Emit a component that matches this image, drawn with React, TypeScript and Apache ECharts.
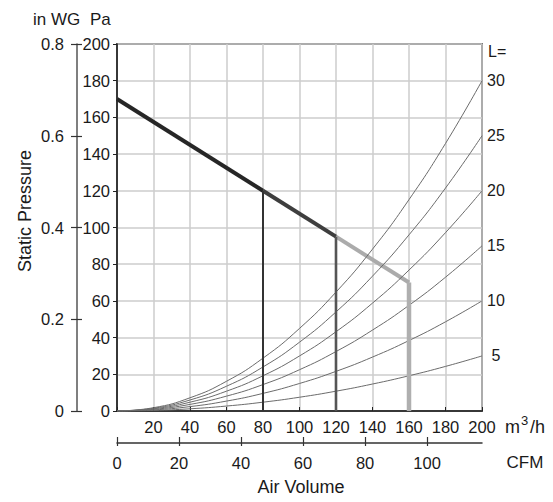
import React, { useEffect, useRef } from "react";
import * as echarts from "echarts";

// Air volume sample points (m3/h)
const airVolume = [0, 20, 40, 60, 80, 100, 120, 140, 160, 180, 200];
// System resistance curves for duct lengths L (Pa at each air volume)
const ductLengths = [5, 10, 15, 20, 25, 30];
const curveL5 = [0, 0.3, 1.2, 2.7, 4.8, 7.5, 10.8, 14.7, 19.2, 24.3, 30];
const curveL10 = [0, 0.6, 2.4, 5.4, 9.6, 15, 21.6, 29.4, 38.4, 48.6, 60];
const curveL15 = [0, 0.9, 3.6, 8.1, 14.4, 22.5, 32.4, 44.1, 57.6, 72.9, 90];
const curveL20 = [0, 1.2, 4.8, 10.8, 19.2, 30, 43.2, 58.8, 76.8, 97.2, 120];
const curveL25 = [0, 1.5, 6, 13.5, 24, 37.5, 54, 73.5, 96, 121.5, 150];
const curveL30 = [0, 1.8, 7.2, 16.2, 28.8, 45, 64.8, 88.2, 115.2, 145.8, 180];
const curves = [curveL5, curveL10, curveL15, curveL20, curveL25, curveL30];

// Fan performance line: speed steps (m3/h, Pa)
const fanVolume = [0, 80, 120, 160];
const fanPressure = [170, 120, 95, 70];

// Axis ranges
const paMax = 200;
const paStep = 20;
const inwgMax = 0.8;
const inwgStep = 0.2;
const m3hMax = 200;
const m3hStep = 20;
const cfmPerM3h = 1 / 1.699;
const cfmLabelMax = 100;
const cfmStep = 20;

const NUMFONT = "'Liberation Sans', Arial, sans-serif";
const SANS = "'Liberation Sans', Arial, Helvetica, sans-serif";

export default function App() {
  const ref = useRef<HTMLDivElement>(null);

  useEffect(() => {
    if (!ref.current) return;
    const chart = echarts.init(ref.current, undefined, { renderer: "svg" });

    const gridLeft = 117;
    const gridRight = 71;
    const gridTop = 44;
    const gridBottom = 91;
    const plotW = 553 - gridLeft - gridRight;
    const cfmGridW = (cfmLabelMax / cfmPerM3h) * (plotW / m3hMax);

    const tickLabel = {
      fontFamily: NUMFONT,
      fontSize: 16.5,
      color: "#1a1a1a",
    };

    const curveSeries = curves.map((vals, i) => ({
      type: "line",
      name: "L" + ductLengths[i],
      xAxisIndex: 0,
      yAxisIndex: 0,
      data: airVolume.map((q, j) => [q, vals[j]]),
      smooth: true,
      symbol: "none",
      z: 4,
      lineStyle: { color: "#6b6b6b", width: 1 },
      endLabel: {
        show: true,
        formatter: String(ductLengths[i]),
        distance: 14,
        align: "center",
        fontFamily: SANS,
        fontSize: 16,
        color: "#1a1a1a",
      },
    }));

    const segColors = ["#262626", "#3e3e3e", "#ababab"];
    const dropColors = ["#333333", "#555555", "#afafaf"];
    const dropWidths = [2, 2.6, 4.5];

    const fanSegments = [0, 1, 2].map((k) => ({
      type: "line",
      xAxisIndex: 0,
      yAxisIndex: 0,
      data: [
        [fanVolume[k], fanPressure[k]],
        [fanVolume[k + 1], fanPressure[k + 1]],
      ],
      symbol: "none",
      z: 3,
      lineStyle: { color: segColors[k], width: 4, cap: "butt" },
    }));

    const drops = [1, 2, 3].map((k, idx) => ({
      type: "line",
      xAxisIndex: 0,
      yAxisIndex: 0,
      data: [
        [fanVolume[k], fanPressure[k]],
        [fanVolume[k], 0],
      ],
      symbol: "none",
      z: 5,
      lineStyle: { color: dropColors[idx], width: dropWidths[idx], cap: "butt" },
    }));

    const txt = (text: string, x: number, y: number, size: number, align = "left", extra: any = {}) => ({
      type: "text",
      x,
      y,
      ...extra,
      style: {
        text,
        font: `${size}px ${SANS}`,
        fill: "#1a1a1a",
        align,
        verticalAlign: "middle",
        textAlign: align,
        textVerticalAlign: "middle",
      },
    });

    const option: any = {
      animation: false,
      grid: [
        {
          left: gridLeft,
          right: gridRight,
          top: gridTop,
          bottom: gridBottom,
          show: true,
          borderColor: "#111",
          borderWidth: 1.5,
          backgroundColor: "transparent",
        },
        {
          left: gridLeft,
          width: cfmGridW,
          top: gridTop,
          bottom: gridBottom,
          show: false,
        },
      ],
      xAxis: [
        {
          type: "value",
          gridIndex: 0,
          min: 0,
          max: m3hMax,
          interval: m3hStep,
          position: "bottom",
          axisLine: { show: true, onZero: false, lineStyle: { color: "#111", width: 1.5 } },
          axisTick: { show: true, inside: true, length: 4, lineStyle: { color: "#222", width: 1 } },
          splitLine: { show: true, lineStyle: { color: "#cccccc", width: 1.5 } },
          axisLabel: {
            ...tickLabel,
            margin: 7,
            formatter: (v: number) => (v === 0 ? "" : String(v)),
          },
        },
        {
          type: "value",
          gridIndex: 0,
          min: 0,
          max: m3hMax * cfmPerM3h,
          position: "bottom",
          offset: 32,
          axisLine: { show: true, onZero: false, lineStyle: { color: "#333", width: 1.5 } },
          axisTick: { show: false },
          splitLine: { show: false },
          axisLabel: { show: false },
        },
        {
          type: "value",
          gridIndex: 1,
          min: 0,
          max: cfmLabelMax,
          interval: cfmStep,
          position: "bottom",
          offset: 32,
          axisLine: { show: false, onZero: false },
          axisTick: { show: true, inside: false, length: 3, lineStyle: { color: "#333", width: 1.2 } },
          splitLine: { show: false },
          axisLabel: { ...tickLabel, margin: 11 },
        },
        {
          type: "value",
          gridIndex: 1,
          min: 0,
          max: cfmLabelMax,
          interval: cfmStep,
          position: "bottom",
          offset: 32,
          axisLine: { show: false, onZero: false },
          axisTick: { show: true, inside: true, length: 6, lineStyle: { color: "#333", width: 1.2 } },
          splitLine: { show: false },
          axisLabel: { show: false },
        },
      ],
      yAxis: [
        {
          type: "value",
          gridIndex: 0,
          min: 0,
          max: paMax,
          interval: paStep,
          position: "left",
          axisLine: { show: true, onZero: false, lineStyle: { color: "#111", width: 1.5 } },
          axisTick: { show: true, inside: false, length: 4, lineStyle: { color: "#222", width: 1 } },
          splitLine: { show: true, lineStyle: { color: "#cccccc", width: 1.5 } },
          axisLabel: { ...tickLabel, margin: 7 },
        },
        {
          type: "value",
          gridIndex: 0,
          min: 0,
          max: inwgMax,
          interval: inwgStep,
          position: "left",
          offset: 40,
          axisLine: { show: true, onZero: false, lineStyle: { color: "#555", width: 1.5 } },
          axisTick: { show: true, inside: false, length: 6, lineStyle: { color: "#333", width: 1.2 } },
          splitLine: { show: false },
          axisLabel: {
            ...tickLabel,
            margin: 13,
            formatter: (v: number) => (v === 0 ? "0" : v.toFixed(1)),
          },
        },
        {
          type: "value",
          gridIndex: 0,
          min: 0,
          max: inwgMax,
          interval: inwgStep,
          position: "left",
          offset: 40,
          axisLine: { show: false, onZero: false },
          axisTick: { show: true, inside: true, length: 5, lineStyle: { color: "#333", width: 1.2 } },
          splitLine: { show: false },
          axisLabel: { show: false },
        },
        {
          type: "value",
          gridIndex: 1,
          min: 0,
          max: paMax,
          show: false,
        },
      ],
      series: [...fanSegments, ...drops, ...curveSeries],
      graphic: [
        txt("in WG", 33, 19, 17),
        txt("Pa", 90, 19, 17),
        txt("Static Pressure", 25, 211, 18, "center", { rotation: Math.PI / 2 }),
        txt("L=", 488, 51, 16),
        txt("m", 505, 427, 18),
        txt("3", 521, 420, 13),
        txt("/h", 530, 427, 18),
        txt("CFM", 525, 462, 17, "center"),
        txt("Air Volume", 301, 487, 18, "center"),
      ],
    };

    chart.setOption(option);
    return () => chart.dispose();
  }, []);

  return (
    <div
      ref={ref}
      style={{ position: "absolute", left: 0, top: 0, width: 553, height: 502, background: "#fff" }}
    />
  );
}
